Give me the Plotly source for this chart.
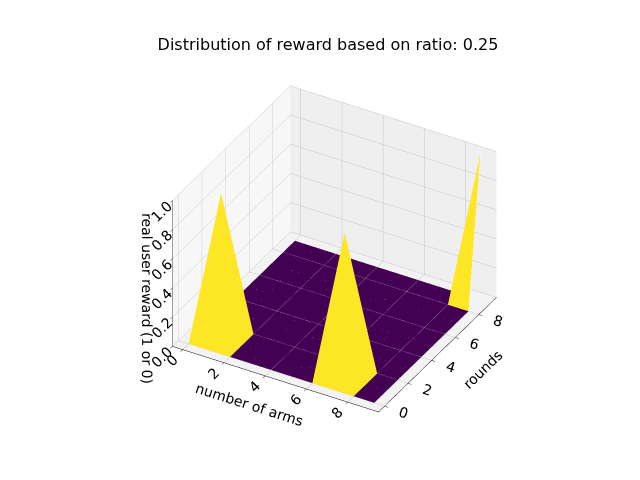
import plotly.graph_objects as go

# Grid: 10 arms x 10 rounds, reward 1 at three cells
arms = [0, 1, 2, 3, 4, 5, 6, 7, 8, 9]
rounds = [0, 1, 2, 3, 4, 5, 6, 7, 8, 9]
# reward[round][arm]
reward = [
    [0, 0, 0, 0, 0, 0, 0, 0, 0, 0],
    [0, 1, 0, 0, 0, 0, 0, 1, 0, 0],
    [0, 0, 0, 0, 0, 0, 0, 0, 0, 0],
    [0, 0, 0, 0, 0, 0, 0, 0, 0, 0],
    [0, 0, 0, 0, 0, 0, 0, 0, 0, 0],
    [0, 0, 0, 0, 0, 0, 0, 0, 0, 0],
    [0, 0, 0, 0, 0, 0, 0, 0, 0, 0],
    [0, 0, 0, 0, 0, 0, 0, 0, 0, 0],
    [0, 0, 0, 0, 0, 0, 0, 0, 0, 0],
    [0, 0, 0, 0, 0, 0, 0, 0, 0, 1],
]
ratio = 0.25

purple = "#440154"
yellow = "#fde725"

nr, na = len(rounds), len(arms)

# surface as a mesh so each grid cell gets one flat colour (like plot_surface)
vx, vy, vz = [], [], []
for i in range(nr):
    for j in range(na):
        vx.append(arms[j])
        vy.append(rounds[i])
        vz.append(reward[i][j])

ti, tj, tk, fcol = [], [], [], []
for i in range(nr - 1):
    for j in range(na - 1):
        a = i * na + j
        b = a + 1
        c = a + na + 1
        d = a + na
        hit = max(reward[i][j], reward[i][j + 1], reward[i + 1][j], reward[i + 1][j + 1])
        col = yellow if hit > 0 else purple
        ti += [a, a]
        tj += [b, c]
        tk += [c, d]
        fcol += [col, col]

fig = go.Figure()
fig.add_trace(go.Mesh3d(
    x=vx, y=vy, z=vz, i=ti, j=tj, k=tk,
    facecolor=fcol, flatshading=True,
    lighting=dict(ambient=1, diffuse=0, specular=0, roughness=1, fresnel=0),
    hoverinfo="skip", showscale=False,
))

# faint cell edges
lx, ly, lz = [], [], []
for i in range(nr):
    for j in range(na):
        lx.append(arms[j]); ly.append(rounds[i]); lz.append(reward[i][j])
    lx.append(None); ly.append(None); lz.append(None)
for j in range(na):
    for i in range(nr):
        lx.append(arms[j]); ly.append(rounds[i]); lz.append(reward[i][j])
    lx.append(None); ly.append(None); lz.append(None)
fig.add_trace(go.Scatter3d(
    x=lx, y=ly, z=lz, mode="lines",
    line=dict(color="rgba(190,160,215,0.6)", width=1),
    hoverinfo="skip", showlegend=False,
))

axis_common = dict(
    showbackground=True,
    gridcolor="#c4c4c4",
    gridwidth=1,
    zeroline=False,
    showline=True,
    linecolor="black",
    ticks="outside",
    tickcolor="black",
    ticklen=4,
    tickfont=dict(size=13, color="black"),
    title_font=dict(size=13, color="black"),
    showspikes=False,
)

fig.update_layout(
    width=640, height=480,
    paper_bgcolor="white",
    font=dict(family="DejaVu Sans", color="black"),
    margin=dict(l=0, r=0, t=0, b=0),
    showlegend=False,
    title=dict(text=f"Distribution of reward based on ratio: {ratio}",
               x=0.5, y=0.925, xanchor="center", yanchor="middle",
               font=dict(size=16, color="black")),
    scene=dict(
        domain=dict(x=[0.12, 0.9], y=[0.05, 0.91]),
        xaxis=dict(axis_common, title="number of arms", range=[-0.5, 9.5],
                   tickvals=[0, 2, 4, 6, 8], backgroundcolor="#f7f7f7"),
        yaxis=dict(axis_common, title="rounds", range=[-0.5, 9.5],
                   tickvals=[0, 2, 4, 6, 8], backgroundcolor="#efefef"),
        zaxis=dict(axis_common, title="real user reward (1 or 0)", range=[0, 1],
                   tickvals=[0, 0.2, 0.4, 0.6, 0.8, 1.0], tickformat=".1f",
                   backgroundcolor="#f3f3f3"),
        aspectmode="manual",
        aspectratio=dict(x=1.15, y=1.15, z=0.85),
        camera=dict(
            eye=dict(x=0.75, y=-1.31, z=0.96),
            center=dict(x=0, y=0, z=-0.05),
            projection=dict(type="orthographic"),
        ),
    ),
)

fig.write_html("out.html")
